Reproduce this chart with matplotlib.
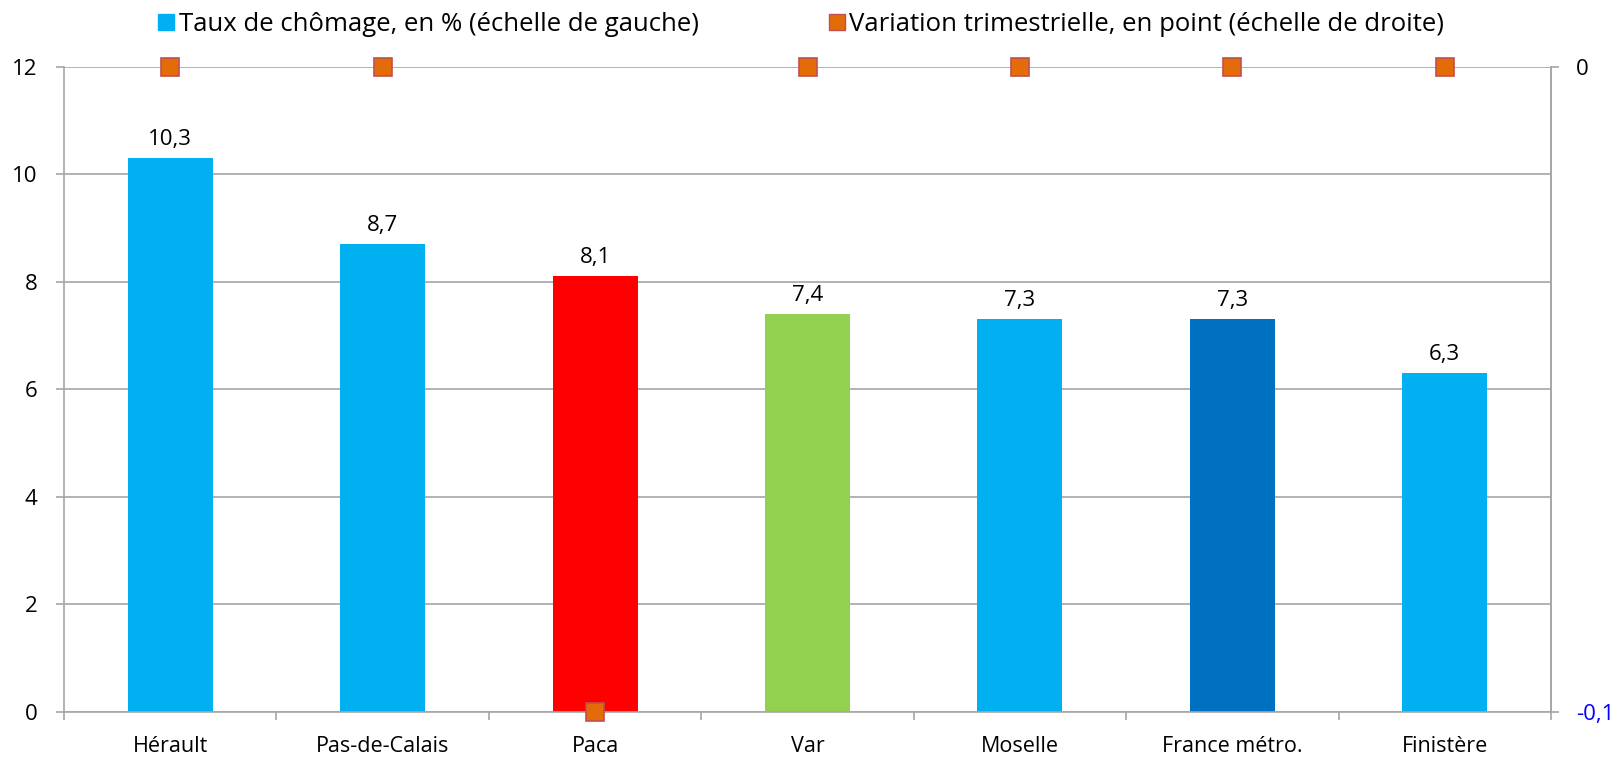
import matplotlib
matplotlib.use("Agg")
import matplotlib.pyplot as plt
from matplotlib.lines import Line2D
import numpy as np

plt.rcParams['font.family'] = ['Open Sans', 'DejaVu Sans']

categories = ["Hérault", "Pas-de-Calais", "Paca", "Var", "Moselle", "France métro.", "Finistère"]
taux = [10.3, 8.7, 8.1, 7.4, 7.3, 7.3, 6.3]
variation = [0, 0, -0.1, 0, 0, 0, 0]
bar_colors = ["#00B0F0", "#00B0F0", "#FF0000", "#92D050", "#00B0F0", "#0070C0", "#00B0F0"]

grid_c = "#A6A6A6"
fs = 16
fig = plt.figure(figsize=(16.18, 7.57), dpi=100)
ax = fig.add_axes([0.0396, 0.0594, 0.919, 0.8526])
x = np.arange(len(categories))
ax.bar(x, taux, width=0.4, color=bar_colors, zorder=2)
for xi, v in zip(x, taux):
    ax.text(xi, v + 0.24, f"{v:.1f}".replace(".", ","), ha="center", va="baseline", fontsize=fs)

ax.set_xlim(-0.5, len(categories) - 0.5)
ax.set_ylim(0, 12)
ax.set_yticks(range(0, 13, 2))
ax.yaxis.grid(True, color=grid_c, linewidth=1.2, zorder=0)
ax.set_axisbelow(True)
ax.set_xticks(x)
ax.set_xticklabels(categories, fontsize=15.5)
ax.tick_params(axis="x", length=0, pad=17)
ax.set_xticks(np.arange(-0.5, len(categories)), minor=True)
ax.tick_params(axis="x", which="minor", length=6, color=grid_c, width=1.2)
ax.tick_params(axis="y", length=6, color=grid_c, width=1.2, labelsize=fs, pad=13)
ax.spines["top"].set_visible(False)
for s in ["left", "bottom", "right"]:
    ax.spines[s].set_color(grid_c)
    ax.spines[s].set_linewidth(1.2)

ax2 = ax.twinx()
ax2.set_ylim(-0.1, 0)
ax2.set_yticks([-0.1, 0])
ax2.set_yticklabels(["-0,1", "0"], fontsize=fs)
ax2.get_yticklabels()[0].set_color("#0000FF")
ax2.tick_params(axis="y", length=6, color=grid_c, width=1.2, pad=12)
for s in ["top", "left", "bottom"]:
    ax2.spines[s].set_visible(False)
ax2.spines["right"].set_color(grid_c)
ax2.spines["right"].set_linewidth(1.2)
ax2.plot(x, variation, linestyle="none", marker="s", markersize=13,
         markerfacecolor="#E36C09", markeredgecolor="#C0504D", markeredgewidth=1.2,
         clip_on=False, zorder=5)

handles = [
    Line2D([], [], linestyle="none", marker="s", markersize=12, markerfacecolor="#00B0F0",
           markeredgecolor="#00B0F0", label="Taux de chômage, en % (échelle de gauche)"),
    Line2D([], [], linestyle="none", marker="s", markersize=12, markerfacecolor="#E36C09",
           markeredgecolor="#C0504D", label="Variation trimestrielle, en point (échelle de droite)"),
]
fig.legend(handles=handles, loc="upper center", bbox_to_anchor=(0.495, 1.015), ncol=2,
           frameon=False, fontsize=18.5, handletextpad=0.15, columnspacing=5.0,
           handlelength=0.7)

fig.savefig("out.png", dpi=100)
